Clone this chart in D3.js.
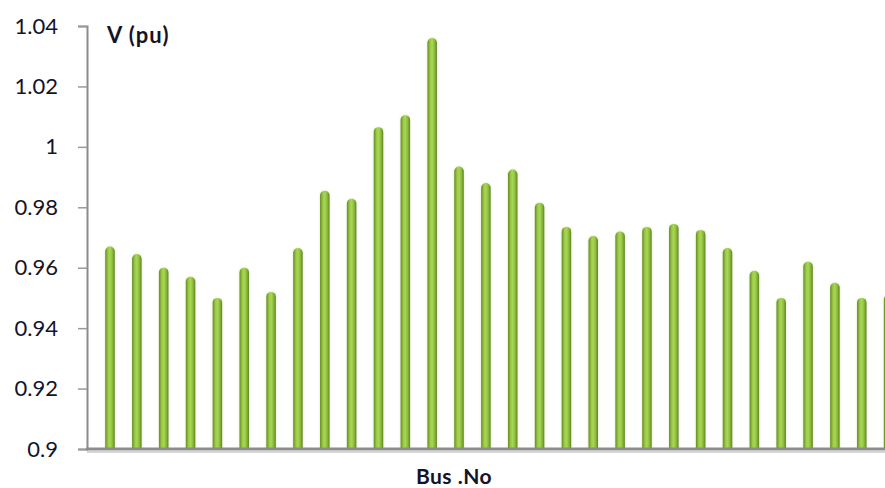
<!DOCTYPE html>
<html>
<head>
<meta charset="utf-8">
<script src="https://cdn.jsdelivr.net/npm/d3@7/dist/d3.min.js"></script>
<style>
html,body{margin:0;padding:0;background:#fff;}
svg{display:block;}
</style>
</head>
<body>
<svg id="chart" width="885" height="488"></svg>
<script>
const buses = d3.range(1, 31);
const voltages = [0.967, 0.9645, 0.960, 0.957, 0.950, 0.960, 0.952, 0.9665, 0.9855, 0.9828,
                  1.0065, 1.0105, 1.036, 0.9935, 0.988, 0.9925, 0.9815, 0.9735, 0.9705, 0.972,
                  0.9735, 0.9745, 0.9725, 0.9665, 0.959, 0.950, 0.962, 0.955, 0.950, 0.951];
const yTicks = [0.9, 0.92, 0.94, 0.96, 0.98, 1, 1.02, 1.04];
const yTitle = "V (pu)";
const xTitle = "Bus .No";

const svg = d3.select("#chart");
const axisX = 87, baseY = 449, topY = 26;
const y = d3.scaleLinear().domain([0.9, 1.04]).range([baseY, topY]);
const x = d3.scalePoint().domain(buses).range([110, 888.6]);

const defs = svg.append("defs");
const grad = defs.append("linearGradient").attr("id", "barGrad")
  .attr("x1", "0%").attr("x2", "100%").attr("y1", "0%").attr("y2", "0%");
grad.append("stop").attr("offset", "0%").attr("stop-color", "#668b22");
grad.append("stop").attr("offset", "30%").attr("stop-color", "#9ccb48");
grad.append("stop").attr("offset", "50%").attr("stop-color", "#a9d655");
grad.append("stop").attr("offset", "75%").attr("stop-color", "#8cba3c");
grad.append("stop").attr("offset", "100%").attr("stop-color", "#5f8420");

const blur = defs.append("filter").attr("id", "soft").attr("x", "-50%").attr("y", "-10%").attr("width", "200%").attr("height", "120%");
blur.append("feGaussianBlur").attr("stdDeviation", 1.2);

const bw = 9.5, r = bw / 2;
function barPath(d, i) {
  const cx = x(buses[i]);
  const top = y(d);
  const l = cx - r, rr = cx + r;
  return `M${l},${baseY} L${l},${top + r} A${r},${r} 0 0 1 ${rr},${top + r} L${rr},${baseY} Z`;
}

// soft halo
svg.append("g").selectAll("path").data(voltages).join("path")
  .attr("d", barPath)
  .attr("fill", "#b9d48a").attr("opacity", 0.6)
  .attr("filter", "url(#soft)");

svg.append("g").selectAll("path").data(voltages).join("path")
  .attr("d", barPath)
  .attr("fill", "url(#barGrad)");

// y axis
const yAxis = d3.axisLeft(y).tickValues(yTicks).tickSize(9).tickPadding(20)
  .tickFormat(d => d3.format("")(+d.toFixed(2)));
const gy = svg.append("g").attr("transform", `translate(${axisX},0)`).call(yAxis);
gy.select(".domain").attr("stroke", "#8c8c8c").attr("stroke-width", 2);
gy.selectAll(".tick line").attr("stroke", "#9a9a9a").attr("stroke-width", 1.5);
gy.selectAll(".tick text")
  .attr("fill", "#141428")
  .style("font-family", "Lato, 'Open Sans', sans-serif")
  .style("font-size", "22px");

// x axis baseline
svg.append("line").attr("x1", axisX).attr("x2", 885).attr("y1", baseY + 3).attr("y2", baseY + 3)
  .attr("stroke", "#d6d6d6").attr("stroke-width", 2);
svg.append("line").attr("x1", axisX - 1).attr("x2", 885).attr("y1", baseY).attr("y2", baseY)
  .attr("stroke", "#8c8c8c").attr("stroke-width", 3);

// titles
svg.append("text").attr("x", 107).attr("y", 43).text(yTitle)
  .attr("fill", "#141428")
  .style("font-family", "Lato, 'Open Sans', sans-serif")
  .style("font-weight", "bold").style("font-size", "22px")
  .style("letter-spacing", "1px");
svg.append("text").attr("x", 454).attr("y", 484).attr("text-anchor", "middle").text(xTitle)
  .attr("fill", "#141428")
  .style("font-family", "Lato, 'Open Sans', sans-serif")
  .style("font-weight", "bold").style("font-size", "21px")
  .style("letter-spacing", "0.5px");
</script>
</body>
</html>
